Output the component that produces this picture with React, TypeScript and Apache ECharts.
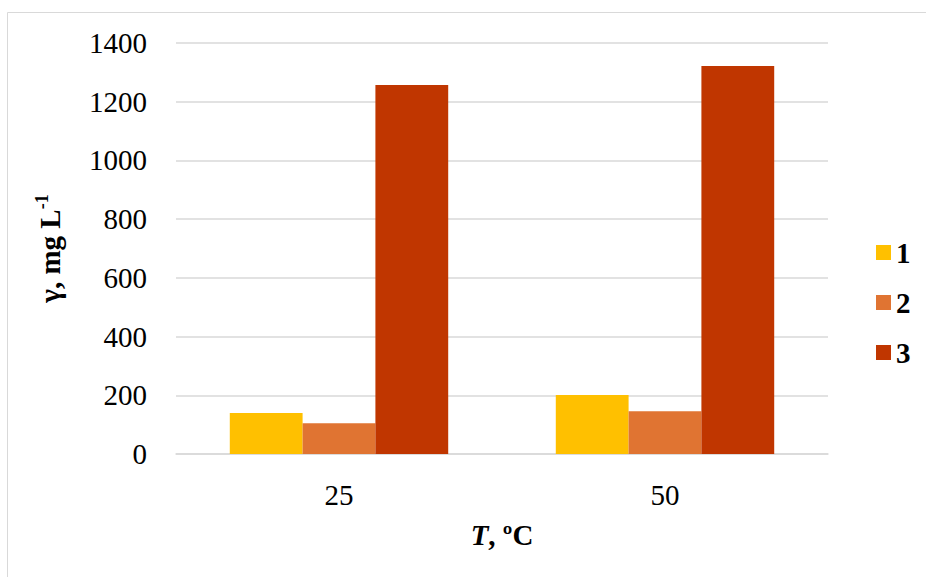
import React, { useEffect, useRef } from "react";
import * as echarts from "echarts";

const categories = ["25", "50"];
const seriesNames = ["1", "2", "3"];
const series1 = [140, 201];
const series2 = [105, 146];
const series3 = [1257, 1322];
const colors = ["#FFC000", "#E07432", "#C03600"];

const FONT = "'Liberation Serif', 'Times New Roman', serif";

export default function App() {
  const ref = useRef<HTMLDivElement>(null);
  useEffect(() => {
    if (!ref.current) return;
    const chart = echarts.init(ref.current, undefined, { renderer: "svg" });
    const values = [series1, series2, series3];
    chart.setOption({
      animation: false,
      backgroundColor: "#ffffff",
      textStyle: { fontFamily: FONT },
      graphic: [
        {
          type: "rect",
          shape: { x: 7.5, y: 12.5, width: 940, height: 600 },
          style: { fill: "none", stroke: "#d9d9d9", lineWidth: 1 },
          silent: true,
        },
      ],
      grid: { left: 176, right: 98, top: 43, bottom: 123 },
      legend: {
        orient: "vertical",
        left: 871,
        top: 233,
        itemWidth: 15,
        itemHeight: 15,
        itemGap: 21,
        icon: "rect",
        data: seriesNames,
        textStyle: { fontFamily: FONT, fontSize: 29, fontWeight: "bold", color: "#000" },
      },
      xAxis: {
        type: "category",
        data: categories,
        axisTick: { show: false },
        axisLine: { lineStyle: { color: "#d9d9d9", width: 1.5 } },
        axisLabel: { fontFamily: FONT, fontSize: 29, color: "#000", margin: 26 },
        name: "{i|T}{b|, ºC}",
        nameLocation: "middle",
        nameGap: 66,
        nameTextStyle: {
          rich: {
            i: { fontFamily: FONT, fontSize: 29, fontWeight: "bold", fontStyle: "italic", color: "#000" },
            b: { fontFamily: FONT, fontSize: 29, fontWeight: "bold", color: "#000" },
          },
        },
      },
      yAxis: {
        type: "value",
        min: 0,
        max: 1400,
        interval: 200,
        axisLine: { show: false },
        axisTick: { show: false },
        splitLine: { lineStyle: { color: "#d9d9d9", width: 1.5 } },
        axisLabel: {
          fontFamily: FONT,
          fontSize: 29,
          color: "#000",
          margin: 29,
          formatter: (v: number) => String(v),
        },
        name: "{b|γ, mg L}{s|-1}",
        nameLocation: "middle",
        nameRotate: 90,
        nameGap: 109,
        nameTextStyle: {
          rich: {
            b: { fontFamily: FONT, fontSize: 29, fontWeight: "bold", color: "#000", lineHeight: 34 },
            s: { fontFamily: FONT, fontSize: 18, fontWeight: "bold", color: "#000", verticalAlign: "top", lineHeight: 34 },
          },
        },
      },
      series: seriesNames.map((n, i) => ({
        name: n,
        type: "bar",
        data: values[i],
        barGap: "0%",
        barCategoryGap: "33%",
        itemStyle: { color: colors[i] },
      })),
    });
    return () => chart.dispose();
  }, []);
  return <div ref={ref} style={{ position: "fixed", left: 0, top: 0, width: 926, height: 577 }} />;
}
